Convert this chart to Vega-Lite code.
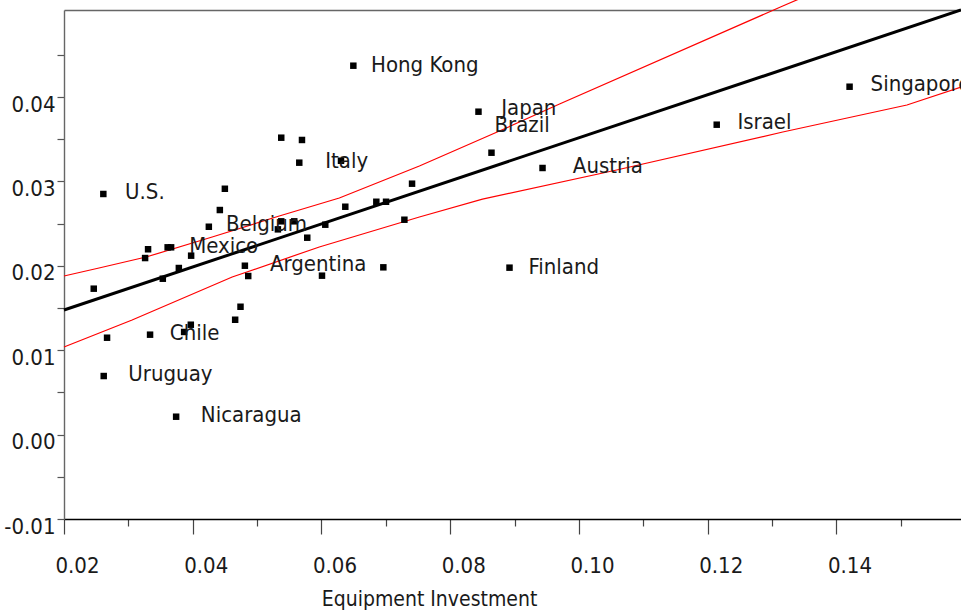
{
  "$schema": "https://vega.github.io/schema/vega-lite/v6.json",
  "width": 897,
  "height": 509,
  "autosize": {"type": "none"},
  "padding": {"left": 64, "top": 10, "right": 0, "bottom": 93},
  "background": "white",
  "config": {"view": {"stroke": null}, "font": "'DejaVu Sans Condensed', Roboto, sans-serif"},
  "datasets": {
    "points": [
      {"x": 0.02611, "y": 0.02851}, {"x": 0.04499, "y": 0.02913}, {"x": 0.04421, "y": 0.02661},
      {"x": 0.04250, "y": 0.02463}, {"x": 0.03306, "y": 0.02196}, {"x": 0.03610, "y": 0.02219},
      {"x": 0.03664, "y": 0.02219}, {"x": 0.03260, "y": 0.02092}, {"x": 0.03975, "y": 0.02120},
      {"x": 0.03784, "y": 0.01974}, {"x": 0.03535, "y": 0.01847}, {"x": 0.02462, "y": 0.01729},
      {"x": 0.04810, "y": 0.02001}, {"x": 0.04862, "y": 0.01879}, {"x": 0.04742, "y": 0.01515},
      {"x": 0.05323, "y": 0.02432}, {"x": 0.02669, "y": 0.01148}, {"x": 0.03337, "y": 0.01184},
      {"x": 0.03970, "y": 0.01302}, {"x": 0.03866, "y": 0.01216}, {"x": 0.04659, "y": 0.01361},
      {"x": 0.02617, "y": 0.00694}, {"x": 0.03742, "y": 0.00212}, {"x": 0.05375, "y": 0.03518},
      {"x": 0.05697, "y": 0.03491}, {"x": 0.05655, "y": 0.03222}, {"x": 0.06303, "y": 0.03245},
      {"x": 0.07407, "y": 0.02973}, {"x": 0.06852, "y": 0.02759}, {"x": 0.07003, "y": 0.02759},
      {"x": 0.06370, "y": 0.02700}, {"x": 0.07288, "y": 0.02546}, {"x": 0.05375, "y": 0.02527},
      {"x": 0.05577, "y": 0.02527}, {"x": 0.06059, "y": 0.02487}, {"x": 0.05779, "y": 0.02333},
      {"x": 0.06008, "y": 0.01883}, {"x": 0.06961, "y": 0.01982}, {"x": 0.06495, "y": 0.04371},
      {"x": 0.08439, "y": 0.03826}, {"x": 0.08641, "y": 0.03340}, {"x": 0.09434, "y": 0.03159},
      {"x": 0.08921, "y": 0.01978}, {"x": 0.12140, "y": 0.03672}, {"x": 0.14204, "y": 0.04122}
    ],
    "labels": [
      {"name": "U.S.", "lx": 0.02949, "ly": 0.02898},
      {"name": "Hong Kong", "lx": 0.06770, "ly": 0.04399},
      {"name": "Japan", "lx": 0.08792, "ly": 0.03893},
      {"name": "Brazil", "lx": 0.08687, "ly": 0.03688},
      {"name": "Italy", "lx": 0.06059, "ly": 0.03254},
      {"name": "Austria", "lx": 0.09905, "ly": 0.03198},
      {"name": "Israel", "lx": 0.12462, "ly": 0.03722},
      {"name": "Singapore", "lx": 0.14530, "ly": 0.04168},
      {"name": "Belgium", "lx": 0.04515, "ly": 0.02513},
      {"name": "Mexico", "lx": 0.03944, "ly": 0.02256},
      {"name": "Argentina", "lx": 0.05199, "ly": 0.02045},
      {"name": "Finland", "lx": 0.09216, "ly": 0.02009},
      {"name": "Chile", "lx": 0.03644, "ly": 0.01219},
      {"name": "Uruguay", "lx": 0.03000, "ly": 0.00736},
      {"name": "Nicaragua", "lx": 0.04126, "ly": 0.00252}
    ],
    "fit": [
      {"x": 0.02, "y": 0.01476}, {"x": 0.15935, "y": 0.05031}
    ],
    "band": [
      {"series": "upper", "x": 0.02, "y": 0.01879},
      {"series": "upper", "x": 0.02544, "y": 0.01974},
      {"series": "upper", "x": 0.03275, "y": 0.02104},
      {"series": "upper", "x": 0.04302, "y": 0.02341},
      {"series": "upper", "x": 0.05344, "y": 0.02590},
      {"series": "upper", "x": 0.06277, "y": 0.02803},
      {"series": "upper", "x": 0.07521, "y": 0.03182},
      {"series": "upper", "x": 0.08765, "y": 0.03597},
      {"series": "upper", "x": 0.09698, "y": 0.03917},
      {"series": "upper", "x": 0.13166, "y": 0.05078},
      {"series": "upper", "x": 0.14208, "y": 0.05422},
      {"series": "lower", "x": 0.02, "y": 0.01038},
      {"series": "lower", "x": 0.03058, "y": 0.01358},
      {"series": "lower", "x": 0.04613, "y": 0.01867},
      {"series": "lower", "x": 0.05966, "y": 0.02223},
      {"series": "lower", "x": 0.07521, "y": 0.02578},
      {"series": "lower", "x": 0.08501, "y": 0.02791},
      {"series": "lower", "x": 0.10585, "y": 0.03135},
      {"series": "lower", "x": 0.13166, "y": 0.03585},
      {"series": "lower", "x": 0.15095, "y": 0.03905},
      {"series": "lower", "x": 0.15935, "y": 0.04118}
    ]
  },
  "resolve": {"axis": {"x": "independent"}},
  "layer": [
    {
      "data": {"name": "band"},
      "mark": {"type": "line", "color": "#ff0000", "strokeWidth": 1.2, "clip": false},
      "encoding": {
        "x": {
          "field": "x", "type": "quantitative",
          "scale": {"domain": [0.02, 0.15935], "nice": false, "zero": false},
          "axis": {
            "orient": "bottom",
            "values": [0.02, 0.03, 0.04, 0.05, 0.06, 0.07, 0.08, 0.09, 0.10, 0.11, 0.12, 0.13, 0.14, 0.15],
            "labelExpr": "abs(datum.value*50 - round(datum.value*50)) < 0.001 ? format(datum.value, '.2f') : ''",
            "tickSize": {"condition": {"test": "abs(datum.value*50 - round(datum.value*50)) < 0.001", "value": 15}, "value": 7},
            "tickColor": "#444",
            "tickWidth": 1.2,
            "domainColor": "#000",
            "domainWidth": 1.4,
            "grid": false,
            "labelFontSize": 22,
            "labelColor": "#1a1a1a",
            "labelOffset": 13,
            "labelPadding": 21,
            "labelFlush": false,
            "labelOverlap": false,
            "labelBaseline": "top",
            "title": "Equipment Investment",
            "titleFontSize": 21,
            "titleFontWeight": "normal",
            "titleColor": "#1a1a1a",
            "titleX": 365,
            "titleY": 69,
            "titleAlign": "center",
            "titleBaseline": "top"
          }
        },
        "y": {
          "field": "y", "type": "quantitative",
          "scale": {"domain": [-0.01, 0.05031], "nice": false, "zero": false},
          "axis": {
            "values": [-0.01, -0.005, 0, 0.005, 0.01, 0.015, 0.02, 0.025, 0.03, 0.035, 0.04, 0.045],
            "labelExpr": "abs(datum.value*100 - round(datum.value*100)) < 0.001 ? (datum.value < -0.0001 ? '-' + format(-datum.value, '.2f') : format(datum.value, '.2f')) : ''",
            "tickSize": 7,
            "tickColor": "#555",
            "tickWidth": 1.2,
            "domainColor": "#666",
            "domainWidth": 1.4,
            "grid": false,
            "labelFontSize": 22,
            "labelColor": "#1a1a1a",
            "labelPadding": 2,
            "labelOffset": 7,
            "labelBaseline": "middle",
            "labelOverlap": false,
            "labelFlush": false,
            "title": null
          }
        },
        "detail": {"field": "series"},
        "order": {"field": "x", "type": "quantitative"}
      }
    },
    {
      "data": {"name": "fit"},
      "mark": {"type": "line", "color": "#000", "strokeWidth": 3},
      "encoding": {
        "x": {"field": "x", "type": "quantitative", "axis": null},
        "y": {"field": "y", "type": "quantitative"}
      }
    },
    {
      "data": {"name": "points"},
      "mark": {"type": "point", "shape": "square", "filled": true, "size": 42, "color": "#000", "opacity": 1},
      "encoding": {
        "x": {"field": "x", "type": "quantitative", "axis": null},
        "y": {"field": "y", "type": "quantitative"}
      }
    },
    {
      "data": {"name": "labels"},
      "mark": {"type": "text", "align": "left", "baseline": "middle", "dy": 1.5, "fontSize": 22, "color": "#1a1a1a"},
      "encoding": {
        "x": {
          "field": "lx", "type": "quantitative",
          "axis": {"orient": "top", "ticks": false, "labels": false, "domainColor": "#666", "domainWidth": 1.4, "grid": false, "title": null}
        },
        "y": {"field": "ly", "type": "quantitative"},
        "text": {"field": "name"}
      }
    }
  ]
}
